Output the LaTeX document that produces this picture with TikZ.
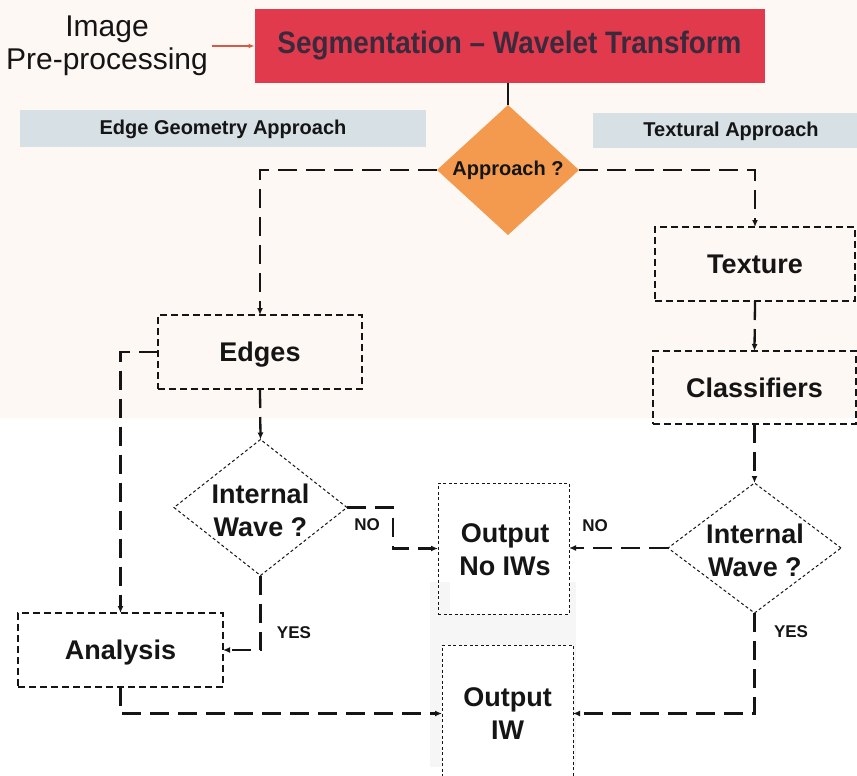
\documentclass[tikz,border=0pt]{standalone}
\usepackage{fontspec}
\setmainfont{Liberation Sans}
\newfontfamily\titlefont[FakeStretch=0.9]{Liberation Sans}
\usetikzlibrary{arrows.meta,shapes.geometric,calc}

\definecolor{peach}{HTML}{FDF8F4}
\definecolor{segred}{HTML}{E13A4D}
\definecolor{segtext}{HTML}{3B2A3C}
\definecolor{apporange}{HTML}{F39A4E}
\definecolor{bandgray}{HTML}{D6E0E5}
\definecolor{shadegray}{HTML}{F6F6F6}
\definecolor{inkblack}{HTML}{151515}
\definecolor{arrowred}{HTML}{D85A44}

\tikzset{
  x=1pt, y=-1pt,
  every node/.style={text=inkblack, inner sep=0pt, outer sep=0pt},
  stepbox/.style={rectangle, draw=inkblack, line width=1.2pt,
    dash pattern=on 7pt off 4pt, font=\fontsize{27}{30}\selectfont\bfseries,
    text height=19.5pt, text depth=0pt},
  outbox/.style={rectangle, draw=inkblack, fill=white, line width=1pt,
    dash pattern=on 3pt off 2.5pt},
  decision/.style={diamond, draw=inkblack, line width=1pt, dash pattern=on 3pt off 2.5pt},
  decisiontext/.style={font=\fontsize{27}{33}\selectfont\bfseries, align=center},
  band/.style={rectangle, fill=bandgray},
  bandtext/.style={font=\fontsize{20}{24}\selectfont\bfseries},
  flow/.style={draw=inkblack, line width=2.3pt, dash pattern=on 19pt off 9pt,
    -{Latex[length=7pt,width=6pt]}},
  answer/.style={font=\fontsize{17}{20}\selectfont\bfseries},
}

\begin{document}
\begin{tikzpicture}
  % page and background areas
  \useasboundingbox (0,0) rectangle (857,776);
  \fill[white] (0,0) rectangle (857,776);
  \fill[peach] (0,0) rectangle (857,418);
  \fill[shadegray] (430,582) rectangle (576,767);

  % pre-processing stage
  \node[align=center, font=\fontsize{30}{33}\selectfont] (pre) at (107,46) {Image\\Pre-processing};
  \node[rectangle, fill=segred, minimum width=510pt, minimum height=74pt,
        font=\titlefont\fontsize{31}{34}\selectfont\bfseries, text=segtext] (seg) at (509.5,46)
        {Segmentation – Wavelet Transform};
  \coordinate (preout) at (212,46);
  \draw[arrowred, line width=1.6pt, -{Latex[length=6pt,width=5pt]}] (preout) -- (seg.west);

  % approach bands
  \node[band, minimum width=406pt, minimum height=37pt] (edgeband) at (223,128.5) {};
  \node[bandtext] (edgebandtext) at (223,129) {Edge Geometry Approach};
  \node[band, minimum width=264pt, minimum height=35pt] (texband) at (725,130.5) {};
  \node[bandtext] (texbandtext) at (731,131) {Textural Approach};

  % approach decision
  \node[diamond, fill=apporange, minimum width=142pt, minimum height=130pt] (appr) at (508,170) {};
  \node[font=\fontsize{20}{24}\selectfont\bfseries] (apprtext) at (508,170) {Approach ?};
  \draw[inkblack, line width=2pt] (seg.south -| appr.north) -- (appr.north);

  % edge geometry branch
  \node[stepbox, minimum width=204pt, minimum height=74pt] (edges) at (260,352) {Edges};
  \node[decision, minimum width=173pt, minimum height=136pt] (ldia) at (260.5,507.5) {};
  \node[decisiontext] (ldiatext) at (260.5,510) {Internal\\Wave ?};
  \node[stepbox, minimum width=205pt, minimum height=74pt] (analysis) at (120.5,650) {Analysis};

  % textural branch
  \node[stepbox, minimum width=200pt, minimum height=74pt] (texture) at (755,264) {Texture};
  \node[stepbox, minimum width=203pt, minimum height=73pt] (classif) at (754.5,387.5) {Classifiers};
  \node[decision, minimum width=173pt, minimum height=130pt] (rdia) at (754.5,548) {};
  \node[decisiontext] (rdiatext) at (755,550) {Internal\\Wave ?};

  % outputs
  \node[outbox, minimum width=131pt, minimum height=131pt] (nob) at (503.5,548.5) {};
  \fill[shadegray] (439,582) rectangle (450,613.5);
  \node[decisiontext] (nobtext) at (505,550) {Output\\No IWs};
  \node[outbox, minimum width=131pt, minimum height=137pt] (iw) at (507.5,713.5) {};
  \fill[shadegray] (430.5,646) rectangle (442,767);
  \node[decisiontext] (iwtext) at (507.5,714) {Output\\IW};

  % connectors
  \draw[flow] (appr.west) -| (edges.north);
  \draw[flow] (appr.east) -| (texture.north);
  \draw[flow] (texture.south) -- (classif.north);
  \draw[flow] (classif.south) -- (rdia.north);
  \draw[flow] (edges.south) -- (ldia.north);
  \draw[flow] (edges.west) -| (analysis.north);
  \draw[flow] (ldia.east) -- ++(46,0) |- (nob.west);
  \draw[flow] (ldia.south) |- (analysis.east);
  \draw[flow] (rdia.west) -- (rdia.west -| nob.east);
  \draw[flow] (rdia.south) |- (iw.east);
  \draw[flow] (analysis.south) |- (iw.west);

  % answer labels
  \node[answer] (lno) at (367,525) {NO};
  \node[answer] (lyes) at (294,633) {YES};
  \node[answer] (rno) at (595,526) {NO};
  \node[answer] (ryes) at (791,632) {YES};
\end{tikzpicture}
\end{document}
